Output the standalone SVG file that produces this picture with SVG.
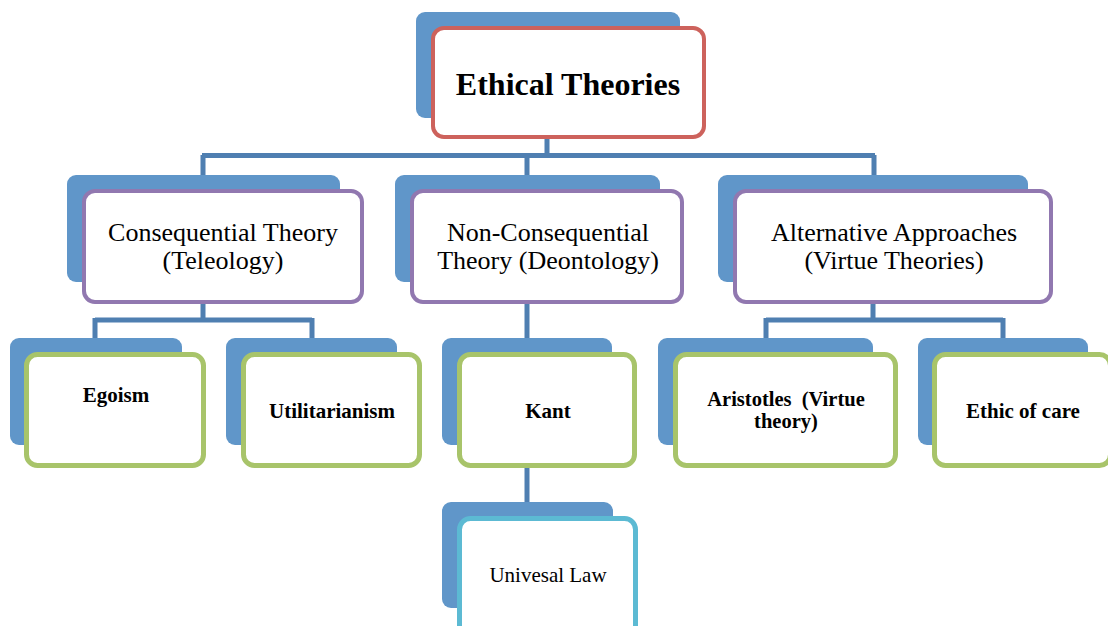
<svg xmlns="http://www.w3.org/2000/svg" width="1108" height="626" viewBox="0 0 1108 626">
  <style>
    .back { fill: #6096c9; }
    .front { fill: #ffffff; }
    .red { stroke: #cd625c; stroke-width: 4; }
    .purple { stroke: #9178b0; stroke-width: 4; }
    .green { stroke: #a8c46a; stroke-width: 5; }
    .cyan { stroke: #5cbad3; stroke-width: 5; }
    .link { fill: none; stroke: #4f7fb1; stroke-width: 5; }
    text { font-family: "Liberation Serif", "Times New Roman", serif; fill: #000; text-anchor: middle; white-space: pre; }
    .t1 { font-size: 32px; font-weight: bold; }
    .t2 { font-size: 26px; }
    .t3 { font-size: 21px; font-weight: bold; }
    .t3s { font-size: 20.5px; font-weight: bold; }
    .t4 { font-size: 21px; }
  </style>

  <g id="connectors">
    <path class="link" d="M547 139 V155.5 M202 155.5 H875 M203 155 V178 M527 155 V178 M874 155 V178"/>
    <path class="link" d="M203 304 V320 M95 320 H312 M95 318 V338 M312 318 V338"/>
    <path class="link" d="M527 304 V340"/>
    <path class="link" d="M873 304 V320 M766 320 H1003 M766 318 V338 M1003 318 V338"/>
    <path class="link" d="M527 468 V504"/>
  </g>

  <g id="ethical-theories">
    <rect class="back" x="416" y="12" width="264" height="106" rx="9"/>
    <rect class="front red" x="433" y="28" width="271" height="109" rx="11"/>
    <text class="t1" x="568" y="95">Ethical Theories</text>
  </g>

  <g id="consequential">
    <rect class="back" x="67" y="175" width="273" height="107" rx="9"/>
    <rect class="front purple" x="84" y="191" width="278" height="111" rx="11"/>
    <text class="t2" x="223" y="241">Consequential Theory</text>
    <text class="t2" x="223" y="269">(Teleology)</text>
  </g>

  <g id="non-consequential">
    <rect class="back" x="395" y="175" width="265" height="107" rx="9"/>
    <rect class="front purple" x="412" y="191" width="270" height="111" rx="11"/>
    <text class="t2" x="548" y="241">Non-Consequential</text>
    <text class="t2" x="548" y="269">Theory (Deontology)</text>
  </g>

  <g id="alternative">
    <rect class="back" x="718" y="175" width="310" height="107" rx="9"/>
    <rect class="front purple" x="735" y="191" width="316" height="111" rx="11"/>
    <text class="t2" x="894" y="241">Alternative Approaches</text>
    <text class="t2" x="894" y="269">(Virtue Theories)</text>
  </g>

  <g id="egoism">
    <rect class="back" x="10" y="338" width="172" height="107" rx="9"/>
    <rect class="front green" x="26.5" y="354.5" width="177" height="111" rx="11"/>
    <text class="t3" x="116" y="402">Egoism</text>
  </g>

  <g id="utilitarianism">
    <rect class="back" x="226" y="338" width="171" height="107" rx="9"/>
    <rect class="front green" x="243.5" y="354.5" width="176" height="111" rx="11"/>
    <text class="t3" x="332" y="418">Utilitarianism</text>
  </g>

  <g id="kant">
    <rect class="back" x="442" y="338" width="170" height="107" rx="9"/>
    <rect class="front green" x="459.5" y="354.5" width="175" height="111" rx="11"/>
    <text class="t3" x="548" y="418">Kant</text>
  </g>

  <g id="aristotles">
    <rect class="back" x="658" y="338" width="215" height="107" rx="9"/>
    <rect class="front green" x="675.5" y="354.5" width="220" height="111" rx="11"/>
    <text class="t3s" x="786" y="406">Aristotles  (Virtue</text>
    <text class="t3s" x="786" y="428">theory)</text>
  </g>

  <g id="ethic-of-care">
    <rect class="back" x="918" y="338" width="170" height="107" rx="9"/>
    <rect class="front green" x="934.5" y="354.5" width="176" height="111" rx="11"/>
    <text class="t3" x="1023" y="418">Ethic of care</text>
  </g>

  <g id="universal-law">
    <rect class="back" x="442" y="502" width="171" height="106" rx="9"/>
    <rect class="front cyan" x="459.5" y="518.5" width="176" height="120" rx="11"/>
    <text class="t4" x="548" y="582">Univesal Law</text>
  </g>
</svg>
